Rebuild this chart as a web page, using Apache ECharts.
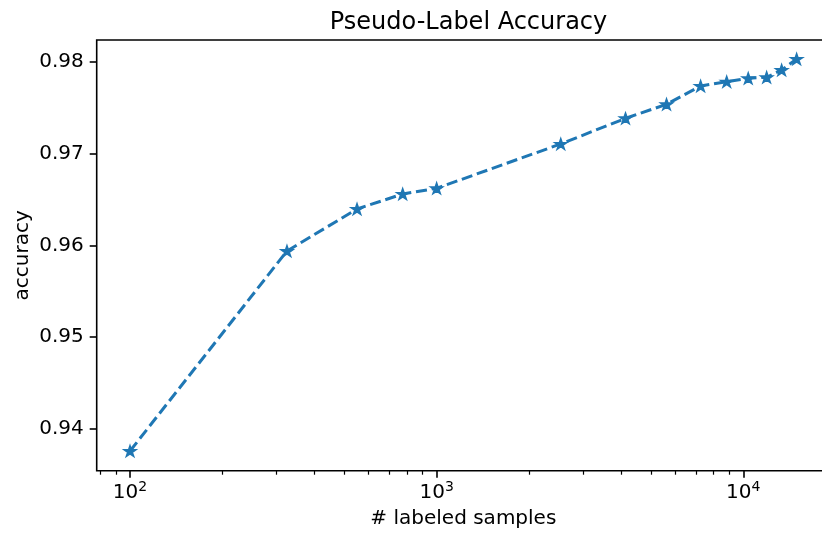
<!DOCTYPE html>
<html><head><meta charset="utf-8">
<script src="https://cdn.jsdelivr.net/npm/echarts@6/dist/echarts.min.js"></script>
<style>html,body{margin:0;padding:0;background:#fff;overflow:hidden}#c{width:822px;height:539px}</style>
</head><body><div id="c"></div>
<script>
// Data
const samples  = [100, 325, 550, 775, 1000, 2540, 4130, 5620, 7260, 8830, 10380, 11920, 13340, 14930];
const accuracy = [0.9376, 0.95938, 0.96396, 0.96559, 0.96621, 0.97104, 0.97383, 0.97536, 0.97735, 0.97782, 0.97819, 0.97830, 0.97909, 0.98029];
const xMajorTicks = [100, 1000, 10000];
const xMinorTicks = [80, 90, 200, 300, 400, 500, 600, 700, 800, 900, 2000, 3000, 4000, 5000, 6000, 7000, 8000, 9000];
const yTicks = [0.94, 0.95, 0.96, 0.97, 0.98];

const X_MIN = 77.87, X_MAX = 19180, Y_MIN = 0.93546, Y_MAX = 0.98236;
const FONT = 'DejaVu Sans';
const STAR = 'path://M0,-100L22.45,-30.9L95.11,-30.9L36.33,11.8L58.78,80.9L0,38.2L-58.78,80.9L-36.33,11.8L-95.11,-30.9L-22.45,-30.9Z';

const chart = echarts.init(document.getElementById('c'), null, {renderer: 'canvas'});
chart.setOption({
  animation: false,
  backgroundColor: '#fff',
  textStyle: {fontFamily: FONT},
  title: {
    text: 'Pseudo-Label Accuracy',
    left: 463.5, textAlign: 'center', top: 6,
    textStyle: {fontFamily: FONT, fontSize: 24, fontWeight: 'normal', color: '#000'}
  },
  grid: {
    left: 96.7, right: -8, top: 40, bottom: 68.3,
    outerBoundsMode: 'none', containLabel: false,
    show: true, borderColor: '#000', borderWidth: 1.6, backgroundColor: 'transparent'
  },
  xAxis: [{
    type: 'log', logBase: 10, min: X_MIN, max: X_MAX,
    position: 'bottom',
    name: '# labeled samples', nameLocation: 'middle', nameGap: 38, nameMoveOverlap: false,
    nameTextStyle: {fontFamily: FONT, fontSize: 20, color: '#000'},
    axisLine: {show: false, onZero: false},
    splitLine: {show: false},
    axisTick: {show: true, length: 7, lineStyle: {color: '#000', width: 1.6}, customValues: xMajorTicks},
    axisLabel: {
      customValues: xMajorTicks, margin: 10,
      fontFamily: FONT, fontSize: 20, color: '#000',
      formatter: v => '{a|10}{b|' + Math.round(Math.log10(v)) + '}',
      rich: {
        a: {fontFamily: FONT, fontSize: 20, color: '#000', lineHeight: 24},
        b: {fontFamily: FONT, fontSize: 14, color: '#000', verticalAlign: 'top', lineHeight: 14}
      }
    }
  }, {
    type: 'log', logBase: 10, min: X_MIN, max: X_MAX,
    position: 'bottom', offset: 0,
    axisLine: {show: false, onZero: false},
    splitLine: {show: false},
    axisLabel: {show: false},
    axisTick: {show: true, length: 4, lineStyle: {color: '#000', width: 1.2}, customValues: xMinorTicks}
  }],
  yAxis: {
    type: 'value', min: Y_MIN, max: Y_MAX,
    name: 'accuracy', nameLocation: 'middle', nameGap: 64, nameMoveOverlap: false,
    nameTextStyle: {fontFamily: FONT, fontSize: 20, color: '#000'},
    axisLine: {show: false, onZero: false},
    splitLine: {show: false},
    axisTick: {show: true, length: 7, lineStyle: {color: '#000', width: 1.6}, customValues: yTicks},
    axisLabel: {
      customValues: yTicks, margin: 13,
      fontFamily: FONT, fontSize: 20, color: '#000',
      formatter: v => v.toFixed(2)
    }
  },
  series: [{
    type: 'line',
    xAxisIndex: 0,
    data: samples.map((s, i) => [s, accuracy[i]]),
    lineStyle: {color: '#1f77b4', width: 3, type: [11.1, 4.8]},
    symbol: STAR, symbolSize: [11.8, 11.2], symbolKeepAspect: true,
    showAllSymbol: true,
    itemStyle: {color: '#1f77b4', borderColor: '#1f77b4', borderWidth: 1.5},
    clip: false
  }]
});
</script></body></html>
